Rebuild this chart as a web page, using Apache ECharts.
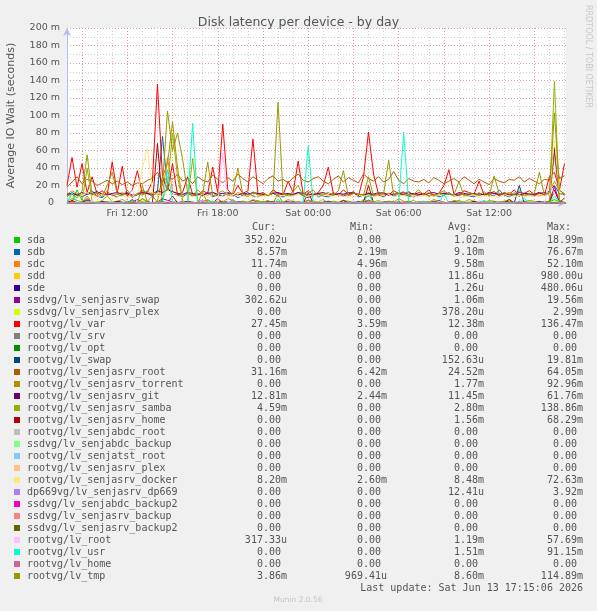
<!DOCTYPE html>
<html>
<head>
<meta charset="utf-8">
<script src="https://cdn.jsdelivr.net/npm/echarts@6.0.0/dist/echarts.min.js"></script>
<style>
html, body { margin: 0; padding: 0; background: #f0f0f0; }
#main { width: 597px; height: 611px; }
</style>
</head>
<body>
<div id="main"></div>
<script>
// samples: hours since Fri 00:00, one every 20 minutes from Fri 08:00
var startHour = 8;
var stepHour = 1 / 3;
var endHour = 41.1;

var names = ['sda', 'sdb', 'sdc', 'sdd', 'sde', 'ssdvg/lv_senjasrv_swap', 'ssdvg/lv_senjasrv_plex',
    'rootvg/lv_var', 'rootvg/lv_srv', 'rootvg/lv_opt', 'rootvg/lv_swap', 'rootvg/lv_senjasrv_root',
    'rootvg/lv_senjasrv_torrent', 'rootvg/lv_senjasrv_git', 'rootvg/lv_senjasrv_samba', 'rootvg/lv_senjasrv_home',
    'rootvg/lv_senjabdc_root', 'ssdvg/lv_senjabdc_backup', 'rootvg/lv_senjatst_root', 'rootvg/lv_senjasrv_plex',
    'rootvg/lv_senjasrv_docker', 'dp669vg/lv_senjasrv_dp669', 'ssdvg/lv_senjabdc_backup2', 'ssdvg/lv_senjasrv_backup',
    'ssdvg/lv_senjasrv_backup2', 'rootvg/lv_root', 'rootvg/lv_usr', 'rootvg/lv_home', 'rootvg/lv_tmp'];

var colors = ['#00cc00', '#0066b3', '#ff8000', '#ffcc00', '#330099', '#990099', '#ccff00', '#ff0000',
    '#808080', '#008f00', '#00487d', '#b35a00', '#b38f00', '#6b006b', '#8fb300', '#b30000', '#bebebe',
    '#80ff80', '#80c9ff', '#ffc080', '#ffe680', '#aa80ff', '#ee00cc', '#ff8080', '#666600', '#ffbfff',
    '#00ffcc', '#cc6699', '#999900'];

var curVals = ['352.02u', '8.57m', '11.74m', '0.00', '0.00', '302.62u', '0.00', '27.45m', '0.00', '0.00',
    '0.00', '31.16m', '0.00', '12.81m', '4.59m', '0.00', '0.00', '0.00', '0.00', '0.00', '8.20m', '0.00',
    '0.00', '0.00', '0.00', '317.33u', '0.00', '0.00', '3.86m'];
var minVals = ['0.00', '2.19m', '4.96m', '0.00', '0.00', '0.00', '0.00', '3.59m', '0.00', '0.00', '0.00',
    '6.42m', '0.00', '2.44m', '0.00', '0.00', '0.00', '0.00', '0.00', '0.00', '2.60m', '0.00', '0.00',
    '0.00', '0.00', '0.00', '0.00', '0.00', '969.41u'];
var avgVals = ['1.02m', '9.10m', '9.58m', '11.86u', '1.26u', '1.06m', '378.20u', '12.38m', '0.00', '0.00',
    '152.63u', '24.52m', '1.77m', '11.45m', '2.80m', '1.56m', '0.00', '0.00', '0.00', '0.00', '8.48m',
    '12.41u', '0.00', '0.00', '0.00', '1.19m', '1.51m', '0.00', '8.60m'];
var maxVals = ['18.99m', '76.67m', '52.10m', '980.00u', '480.06u', '19.56m', '2.99m', '136.47m', '0.00',
    '0.00', '19.81m', '64.05m', '92.96m', '61.76m', '138.86m', '68.29m', '0.00', '0.00', '0.00', '0.00',
    '72.63m', '3.92m', '0.00', '0.00', '0.00', '57.69m', '91.15m', '0.00', '114.89m'];

// values in milliseconds
var sda = [2,1,15,3,1,0,1,2,0,1, 1,0,2,1,0,5,1,0,1,2, 0,1,1,0,2,1,0,1,3,1, 0,1,0,2,1,1,0,1,0,2,
    1,0,1,1,0,2,1,0,1,1, 0,1,2,0,1,0,1,1,0,2, 1,0,1,0,1,2,0,1,1,0, 1,1,0,2,1,0,1,0,1,1,
    0,2,1,0,1,1,0,1,2,0, 1,0,1,1,0,2,1,4,1,0];
var sdb = [8,12,9,7,10,14,8,6,11,9, 7,10,12,8,9,15,11,8,13,76, 18,10,9,7,11,8,10,9,12,7,
    9,8,11,10,6,9,12,8,7,10, 9,11,8,7,10,9,12,8,6,9, 10,8,7,11,9,8,10,12,7,9,
    8,10,9,7,11,8,9,10,8,7, 9,11,8,10,7,9,12,8,9,10, 8,7,11,9,10,8,15,9,7,10,
    8,11,9,10,12,9,14,20,11,9];
var sdc = [10,14,11,9,12,10,8,11,13,9, 10,12,9,8,11,14,10,12,9,11, 52,13,10,9,12,8,11,10,9,12,
    10,11,9,8,12,10,9,11,10,8, 9,12,10,11,8,9,10,12,9,8, 11,10,9,12,8,10,9,11,10,9,
    12,8,10,9,11,10,8,9,12,10, 9,11,8,10,9,12,10,8,11,9, 10,9,12,8,10,11,9,10,8,12,
    9,10,11,9,8,10,12,25,14,11];
var sdd = [0,0,0,0,0,0,0,0,0,0, 0,0,0,0,0,0,0,0,0,0, 0,0,0,0,0,0,0,0,0,0, 0,0,0,0,0,0,0,0,0,0,
    1,0,0,0,0,0,0,0,0,0, 0,0,0,0,0,0,0,0,0,0, 0,0,0,0,0,0,0,0,0,0, 0,0,0,0,0,0,0,0,0,0,
    0,0,0,0,0,0,0,0,0,0, 0,0,0,0,0,0,0,0,0,0];
var sde = [0,0,0,0,0,0,0,0,0,0, 0,0,0,0,0,0,0,0,0,0, 0,0,0,0,0,0,0,0,0,0, 0,0,0,0,0,0,0,0,0,0,
    0,0,0,0,0,0,0,0,0,0, 0,0,0,0,0,0,0,0,0,0, 0,0,0,0,0,0,0,0,0,0, 0.5,0,0,0,0,0,0,0,0,0,
    0,0,0,0,0,0,0,0,0,0, 0,0,0,0,0,0,0,0,0,0];
var ssdSwap = [1,2,0,1,3,1,0,2,1,0, 2,1,0,1,4,1,2,0,1,5, 3,1,0,2,1,0,1,3,1,0, 1,2,1,0,1,2,0,1,1,0,
    2,1,0,1,2,1,0,1,3,1, 0,1,2,1,0,1,1,2,0,1, 3,1,0,1,2,1,0,1,2,0, 1,1,0,2,1,0,1,2,1,0,
    1,0,2,1,1,0,1,2,0,1, 1,2,0,1,1,0,2,19,1,0];
var ssdPlex = [1,0,0,1,0,0,2,0,0,1, 0,0,1,0,0,3,0,0,1,0, 0,1,0,0,1,0,0,0,1,0, 0,1,0,0,0,1,0,0,1,0,
    0,0,1,0,0,1,0,0,0,1, 0,0,1,0,0,0,1,0,0,1, 0,0,0,1,0,0,1,0,0,0, 1,0,0,1,0,0,0,1,0,0,
    1,0,0,0,1,0,0,1,0,0, 0,1,0,0,1,0,0,2,0,1];
var lvVar = [20,52,18,45,12,30,10,14,9,47, 11,42,8,15,37,10,12,25,136,30, 14,45,9,12,30,10,8,14,11,41,
    12,90,15,9,20,11,14,73,10,12, 8,15,11,9,25,12,48,10,14,9, 12,20,41,11,9,15,10,13,8,30,
    81,33,10,12,9,14,11,10,13,9, 12,10,15,8,11,20,38,10,9,14, 12,10,25,9,11,13,8,12,10,15,
    9,11,14,10,12,9,30,35,15,45];
var lvSwap = [0,0,0,0,0,0,0,0,0,0, 0,0,0,0,0,0,0,0,0,0, 0,0,0,0,0,0,0,0,0,0, 0,0,0,0,0,0,0,0,0,0,
    0,0,0,0,0,0,0,0,0,0, 0,0,0,0,0,0,0,0,2,0, 0,0,0,0,0,0,0,0,0,0, 0,0,0,0,0,0,0,0,0,0,
    0,0,0,0,0,0,0,0,0,0, 20,0,0,0,0,0,0,0,0,0];
var lvSrvRoot = [18,24,30,22,27,25,20,23,26,22, 25,21,24,20,23,22,26,28,35,24, 30,27,33,25,28,22,30,26,24,32,
    27,23,29,25,33,28,24,30,26,22, 28,31,25,27,23,29,33,26,24,28, 30,25,22,27,31,24,29,26,23,33,
    28,25,30,24,27,36,26,22,28,25, 24,27,23,29,26,22,25,28,24,30, 26,22,27,24,21,28,25,23,27,26,
    30,24,28,25,22,27,26,64,28,31];
var lvTorrent = [0,2,0,1,8,0,1,0,2,0, 1,0,0,3,0,20,1,0,2,30, 45,93,40,2,0,1,0,12,0,1, 0,2,0,1,0,0,1,0,3,0,
    1,0,10,0,1,0,2,0,0,1, 0,1,0,2,0,0,1,0,0,2, 12,0,1,0,0,2,0,1,0,0, 1,0,2,0,0,1,0,0,3,0,
    1,0,0,2,0,1,0,0,1,0, 2,0,1,0,0,1,0,57,2,0];
var lvGit = [10,11,9,12,10,11,13,10,9,11, 12,10,11,9,10,12,11,10,14,12, 15,13,11,10,12,11,10,9,11,12,
    10,11,12,10,9,11,10,12,11,10, 9,11,12,10,11,10,12,11,9,10, 11,12,10,9,11,10,12,11,10,9,
    11,10,12,11,9,10,11,12,10,11, 10,9,11,12,10,11,10,9,12,11, 10,11,9,10,12,11,10,11,9,10,
    12,11,10,9,11,12,10,62,11,10];
var lvSamba = [2,5,3,1,40,2,0,3,8,1, 2,4,1,3,0,5,2,8,1,3, 20,80,30,2,1,51,3,1,4,0, 2,1,5,3,0,2,1,4,2,1,
    3,0,2,1,4,2,0,1,3,2, 1,4,0,2,1,3,2,1,0,4, 2,1,3,0,2,1,5,2,1,3, 0,2,1,4,2,1,0,3,2,1,
    4,2,1,0,3,2,1,2,4,0, 2,1,3,2,0,1,2,139,3,1];
var lvSrvHome = [0,3,0,0,5,0,0,1,0,0, 2,0,0,4,0,0,1,0,68,0, 0,8,0,0,2,0,0,1,0,0, 5,0,0,0,1,0,0,3,0,0,
    0,2,0,0,0,1,0,0,12,0, 0,0,1,0,0,3,0,0,0,1, 20,0,0,1,0,0,2,0,0,0, 1,0,0,0,3,0,0,1,0,0,
    0,2,0,0,0,1,0,0,4,0, 0,1,0,0,2,0,0,15,0,6];
var lvDocker = [6,8,5,9,12,7,6,10,8,5, 7,9,6,8,10,40,63,12,9,7, 15,10,8,6,9,7,8,10,6,9, 7,8,6,10,8,7,9,6,8,7,
    10,8,6,9,7,8,10,6,8,9, 7,8,10,6,9,7,8,6,10,8, 9,7,8,6,10,7,9,8,6,8, 7,9,6,8,10,7,8,9,6,7,
    8,10,6,9,7,8,6,10,8,7, 9,6,8,7,10,8,9,72,12,8];
var lvDp669 = [0,0,0,0,0,0,0,0,0,0, 0,0,0,0,0,0,0,0,0,0, 0,0,0,0,0,0,0,0,0,0, 0,0,0,4,0,0,0,0,0,0,
    0,0,0,0,0,0,0,0,0,0, 0,0,0,0,0,0,0,0,0,0, 0,0,0,0,0,0,0,0,0,0, 0,0,0,0,0,0,0,0,0,0,
    0,0,0,0,0,0,0,0,0,0, 0,0,0,0,0,0,0,0,0,0];
var lvRoot = [0,0,1,0,0,2,0,0,0,1, 0,0,5,15,0,0,1,0,0,0, 2,0,0,1,0,0,0,3,0,0, 0,57,0,1,0,0,0,2,0,0,
    0,1,0,0,0,4,0,0,0,1, 8,0,0,0,1,0,0,2,0,0, 0,0,1,0,0,0,3,0,0,0, 1,0,0,0,2,0,0,0,1,0,
    0,0,2,0,0,0,1,0,0,0, 3,0,0,1,0,0,22,10,0,0];
var lvUsr = [0,12,0,0,2,0,0,0,1,0, 0,0,0,3,0,0,0,0,0,0, 38,0,0,0,0,91,0,0,0,2, 0,0,0,0,1,0,0,0,0,0,
    0,0,4,0,0,0,0,0,65,0, 0,0,0,1,0,0,0,0,0,0, 10,0,0,0,0,0,0,81,0,0, 0,2,0,0,0,10,0,0,1,0,
    0,0,0,3,0,0,0,0,0,0, 0,5,0,0,0,0,0,8,0,0];
var lvTmp = [8,10,6,14,55,9,12,7,20,35, 10,8,15,6,11,9,14,8,12,20, 105,60,80,50,12,9,15,10,47,8,
    11,14,9,12,40,10,7,13,9,11, 8,12,115,10,9,13,20,8,11,15, 7,10,12,9,14,37,8,11,10,9,
    30,8,12,10,49,9,11,13,8,10, 15,9,12,8,11,14,10,9,25,8, 12,10,9,13,8,31,11,10,12,9,
    14,8,10,11,35,9,12,103,15,10];
// series that stay at 0.00 the whole time: [hour, value] pairs
var flatZero = [[8, 0], [41.1, 0]];

var seriesValues = [sda, sdb, sdc, sdd, sde, ssdSwap, ssdPlex, lvVar, flatZero, flatZero, lvSwap, lvSrvRoot,
    lvTorrent, lvGit, lvSamba, lvSrvHome, flatZero, flatZero, flatZero, flatZero, lvDocker, lvDp669,
    flatZero, flatZero, flatZero, lvRoot, lvUsr, flatZero, lvTmp];

function toPoints(vals) {
    return vals.map(function (v, i) {
        return Array.isArray(v) ? v : [startHour + i * stepHour, v];
    });
}

var series = seriesValues.map(function (vals, i) {
    return {
        name: names[i],
        type: 'line',
        data: toPoints(vals),
        showSymbol: false,
        symbol: 'none',
        lineStyle: { width: 1, color: colors[i] },
        itemStyle: { color: colors[i] },
        animation: false
    };
});

var red = '#e49a9a', grey = '#cfcfcf', textCol = '#555';
var mono = '10px "DejaVu Sans Mono"';

function pad(s) { return /[a-z]$/.test(s) ? s : s + ' '; }

// legend table under the chart
var elements = [];
var headers = [['Cur:', 252], ['Min:', 350], ['Avg:', 448], ['Max:', 547]];
headers.forEach(function (h) {
    elements.push({ type: 'text', x: h[1], y: 227, style: { text: h[0], font: mono, fill: textCol, verticalAlign: 'middle' } });
});
names.forEach(function (n, i) {
    var y = 240 + i * 12;
    elements.push({ type: 'rect', shape: { x: 14, y: y - 3, width: 6, height: 6 }, style: { fill: colors[i] } });
    elements.push({ type: 'text', x: 27, y: y, style: { text: n, font: mono, fill: textCol, verticalAlign: 'middle' } });
    [[curVals, 287], [minVals, 387], [avgVals, 484], [maxVals, 583]].forEach(function (c) {
        elements.push({ type: 'text', x: c[1], y: y, style: { text: pad(c[0][i]), font: mono, fill: textCol, align: 'right', verticalAlign: 'middle' } });
    });
});
elements.push({ type: 'text', x: 583, y: 588, style: { text: 'Last update: Sat Jun 13 17:15:06 2026', font: mono, fill: textCol, align: 'right', verticalAlign: 'middle' } });
elements.push({ type: 'text', x: 298, y: 600, style: { text: 'Munin 2.0.56', font: '7.5px "DejaVu Sans"', fill: '#c4c4c4', align: 'center', verticalAlign: 'middle' } });
elements.push({ type: 'text', x: 588, y: 5, rotation: -Math.PI / 2, style: { text: 'RRDTOOL / TOBI OETIKER', font: '8px "DejaVu Sans"', fill: '#c8c8c8', align: 'left', verticalAlign: 'middle' } });

function hourLabel(v) {
    if (v % 6 !== 0) return '';
    var h = v % 24;
    return (v < 24 ? 'Fri ' : 'Sat ') + (h < 10 ? '0' + h : h) + ':00';
}

var myChart = echarts.init(document.getElementById('main'));
var option = {
    backgroundColor: '#f0f0f0',
    animation: false,
    title: {
        text: 'Disk latency per device - by day',
        left: 'center',
        top: 11,
        textStyle: { fontFamily: 'DejaVu Sans', fontSize: 12.5, fontWeight: 'normal', color: textCol }
    },
    grid: {
        left: 67, top: 28, width: 499, height: 175, containLabel: false, outerBoundsMode: 'none',
        show: true, backgroundColor: '#ffffff', borderWidth: 0
    },
    xAxis: {
        type: 'value',
        min: startHour,
        max: endHour,
        interval: 1,
        axisLine: { show: true, lineStyle: { color: '#b8b8f0', width: 1 }, symbol: ['none', 'arrow'], symbolSize: [6, 8] },
        axisTick: { show: false },
        axisLabel: { formatter: hourLabel, color: textCol, fontFamily: 'DejaVu Sans', fontSize: 9.5, margin: 6, showMaxLabel: false },
        splitLine: { show: true, showMaxLine: false, lineStyle: { type: [1, 2], color: [grey, red, grey], width: 1 } }
    },
    yAxis: {
        type: 'value',
        min: 0,
        max: 200,
        interval: 10,
        name: 'Average IO Wait (seconds)',
        nameLocation: 'middle',
        nameGap: 50,
        nameTextStyle: { fontFamily: 'DejaVu Sans', fontSize: 11, color: textCol },
        axisLine: { show: true, lineStyle: { color: '#b8b8f0', width: 1 }, symbol: ['none', 'arrow'], symbolSize: [6, 8] },
        axisTick: { show: false },
        axisLabel: {
            formatter: function (v) { return v % 20 ? '' : (v === 0 ? '0  ' : v + ' m'); },
            color: textCol, fontFamily: 'DejaVu Sans', fontSize: 9.5, margin: 7
        },
        splitLine: { show: true, lineStyle: { type: [1, 2], color: [red, grey], width: 1 } }
    },
    graphic: { elements: elements },
    series: series
};
myChart.setOption(option);
</script>
</body>
</html>
